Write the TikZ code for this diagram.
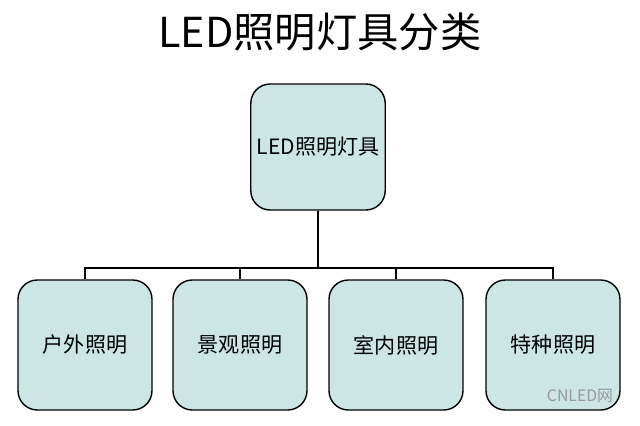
\documentclass[tikz,border=0pt]{standalone}
\usepackage{fontspec}
\setmainfont{Noto Sans CJK SC}
\usetikzlibrary{positioning}
\definecolor{boxfill}{HTML}{CCE6E6}
\tikzset{
  cat/.style={draw=black, line width=0.8pt, fill=boxfill, rounded corners=11pt,
    minimum width=134*0.02cm, minimum height=130*0.02cm, font=\fontsize{12}{14}\selectfont},
  link/.style={line width=1.2pt}
}
\begin{document}
\begin{tikzpicture}[x=0.02cm, y=-0.02cm]
    \useasboundingbox (0,0) rectangle (640,426);
    \node (title) at (320,32) {\fontsize{23.5}{28}\selectfont LED照明灯具分类};

    \node (root) [cat, minimum height=126*0.02cm] at (318,147) {LED照明灯具};

    \node (out)  [cat] at (85,345)  {户外照明};
    \node (view) [cat] at (240,345) {景观照明};
    \node (in)   [cat] at (396,345) {室内照明};
    \node (spec) [cat] at (553,345) {特种照明};

    \coordinate (bar) at (318,268);
    \draw [link] (root.south) -- (bar);
    \draw [link] (out.north) |- (bar) -| (spec.north);
    \draw [link] (view.north) -- (view.north |- bar);
    \draw [link] (in.north) -- (in.north |- bar);

    % watermark
    \node (mark) [text=gray!80, font=\fontsize{9}{10}\selectfont] at (580,396) {CNLED网};
\end{tikzpicture}
\end{document}
